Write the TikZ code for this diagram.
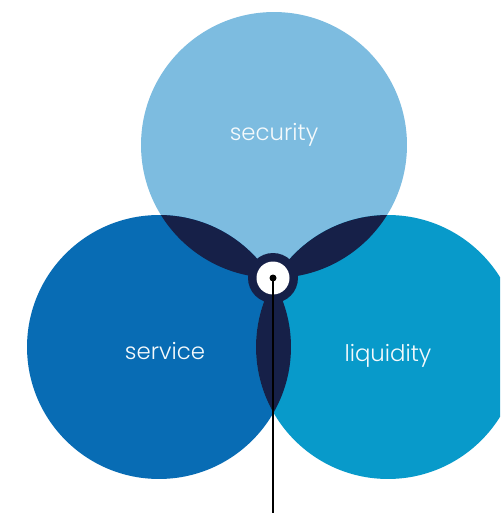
\documentclass[tikz,border=0pt]{standalone}
\usepackage{fontspec}
\setsansfont{Poppins Light}
\definecolor{secblue}{RGB}{125,188,224}
\definecolor{serblue}{RGB}{8,108,180}
\definecolor{liqblue}{RGB}{8,154,202}
\definecolor{navy}{RGB}{22,32,72}
\begin{document}
\begin{tikzpicture}[x=0.02cm,y=-0.02cm,
    area/.style={circle,inner sep=0pt,minimum size=5.28cm},
    word/.style={text=white!92!secblue,font=\sffamily\fontsize{13}{13}\selectfont}]
    \clip (0,0) rectangle (500,513);
    \useasboundingbox (0,0) rectangle (500,513);
    \fill[white] (0,0) rectangle (500,513);
      \node[area,fill=secblue,minimum size=5.32cm] at (274,145) (security) {};
      \node[area,fill=serblue] at (159,347) (service) {};
      \node[area,fill=liqblue] at (388,347) (liquidity) {};
    % the overlaps
    \begin{scope}
        \clip (security.center) circle[radius=2.66cm];
        \fill[navy] (service.center) circle[radius=2.64cm];
        \fill[navy] (liquidity.center) circle[radius=2.64cm];
    \end{scope}
    \begin{scope}
        \clip (service.center) circle[radius=2.64cm];
        \fill[navy] (liquidity.center) circle[radius=2.64cm];
    \end{scope}
        \node[word] at (274,135) (securitytext) {security};
        \node[word] at (165,351) (servicetext) {service};
        \node[word] at (388,356) (liquiditytext) {liquidity};
    % hub in the middle
        \node[circle,fill=navy,inner sep=0pt,minimum size=1.0cm] at (273,278) (hub) {};
        \node[circle,fill=white,inner sep=0pt,minimum size=0.66cm] at (hub.center) (eye) {};
        \node[circle,fill=black,inner sep=0pt,minimum size=0.14cm] at (hub.center) (dot) {};
        \coordinate (foot) at (273,513);
        \draw[line width=1.1pt] (dot.center) -- (foot);
\end{tikzpicture}
\end{document}
